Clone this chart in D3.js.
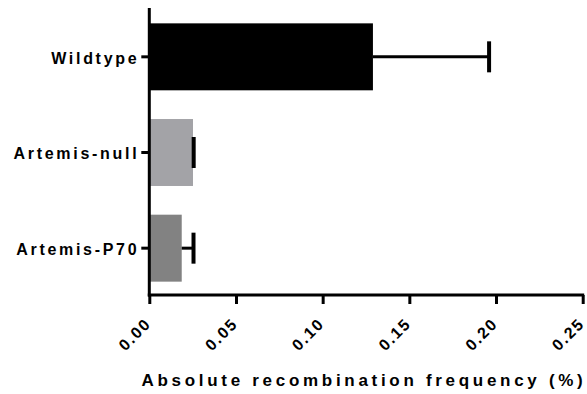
<!DOCTYPE html>
<html>
<head>
<meta charset="utf-8">
<script src="https://cdn.jsdelivr.net/npm/d3@7"></script>
<style>
  body { margin: 0; background: #fff; }
  text { font-family: "Liberation Sans", Arial, sans-serif; font-weight: bold; fill: #000; }
</style>
</head>
<body>
<svg id="chart"></svg>
<script>
// values
let categories = ["Wildtype", "Artemis-null", "Artemis-P70"];
let means = [0.129, 0.0252, 0.0187];
let errors = [0.067, 0.0004, 0.0068];
let barColors = ["#000000", "#a3a3a7", "#828282"];
let xTicks = [0, 0.05, 0.10, 0.15, 0.20, 0.25];
let xTitle = "Absolute recombination frequency  (%)";

let svg = d3.select("#chart").attr("width", 587).attr("height", 394);

let x = d3.scaleLinear().domain([0, 0.25]).range([149.3, 582.7]);
let y = d3.scaleBand().domain(categories).range([9, 296]).paddingInner(0.3).paddingOuter(0.15);

let data = categories.map((c, i) => ({ name: c, mean: means[i], err: errors[i], color: barColors[i] }));

// bars
svg.selectAll("rect.bar").data(data).enter().append("rect")
    .attr("class", "bar")
    .attr("x", x(0))
    .attr("y", d => y(d.name))
    .attr("width", d => x(d.mean) - x(0))
    .attr("height", y.bandwidth())
    .attr("fill", d => d.color);

// error bars (mean to mean + err, with cap)
let eb = svg.selectAll("g.err").data(data).enter().append("g").attr("class", "err");
eb.append("line")
    .attr("x1", d => x(d.mean))
    .attr("x2", d => x(d.mean + d.err))
    .attr("y1", d => y(d.name) + y.bandwidth() / 2)
    .attr("y2", d => y(d.name) + y.bandwidth() / 2)
    .attr("stroke", "#000").attr("stroke-width", 3);
eb.append("line")
    .attr("x1", d => x(d.mean + d.err))
    .attr("x2", d => x(d.mean + d.err))
    .attr("y1", d => y(d.name) + y.bandwidth() / 2 - 15.5)
    .attr("y2", d => y(d.name) + y.bandwidth() / 2 + 15.5)
    .attr("stroke", "#000").attr("stroke-width", 4);

// x axis
let xAxis = svg.append("g")
    .attr("transform", "translate(0,295)")
    .call(d3.axisBottom(x).tickValues(xTicks).tickFormat(d3.format(".2f")).tickSize(9).tickSizeOuter(0));
xAxis.select(".domain").attr("stroke-width", 3).attr("d", "M" + (x(0) - 1.5) + ",0H" + (x(0.25) + 1.5));
xAxis.selectAll(".tick line").attr("stroke-width", 3);
xAxis.selectAll(".tick text")
    .attr("font-size", 16)
    .attr("letter-spacing", 1.7)
    .attr("text-anchor", "end")
    .attr("dy", null).attr("y", 0)
    .attr("dx", 1.7)
    .attr("transform", "translate(1,31) rotate(-45)");

// y axis
let yAxis = svg.append("g")
    .attr("transform", "translate(149.3,0)")
    .call(d3.axisLeft(y).tickSize(8).tickSizeOuter(0));
yAxis.select(".domain").attr("stroke-width", 3).attr("d", "M0,8V296.5");
yAxis.selectAll(".tick line").attr("stroke-width", 3);
yAxis.selectAll(".tick text")
    .attr("font-size", 16)
    .attr("letter-spacing", 2.7)
    .attr("x", -10)
    .attr("dy", "0.42em");

// axis title
svg.append("text")
    .attr("x", 364).attr("y", 386)
    .attr("text-anchor", "middle")
    .attr("font-size", 17)
    .attr("letter-spacing", 3.7)
    .text(xTitle);
</script>
</body>
</html>
